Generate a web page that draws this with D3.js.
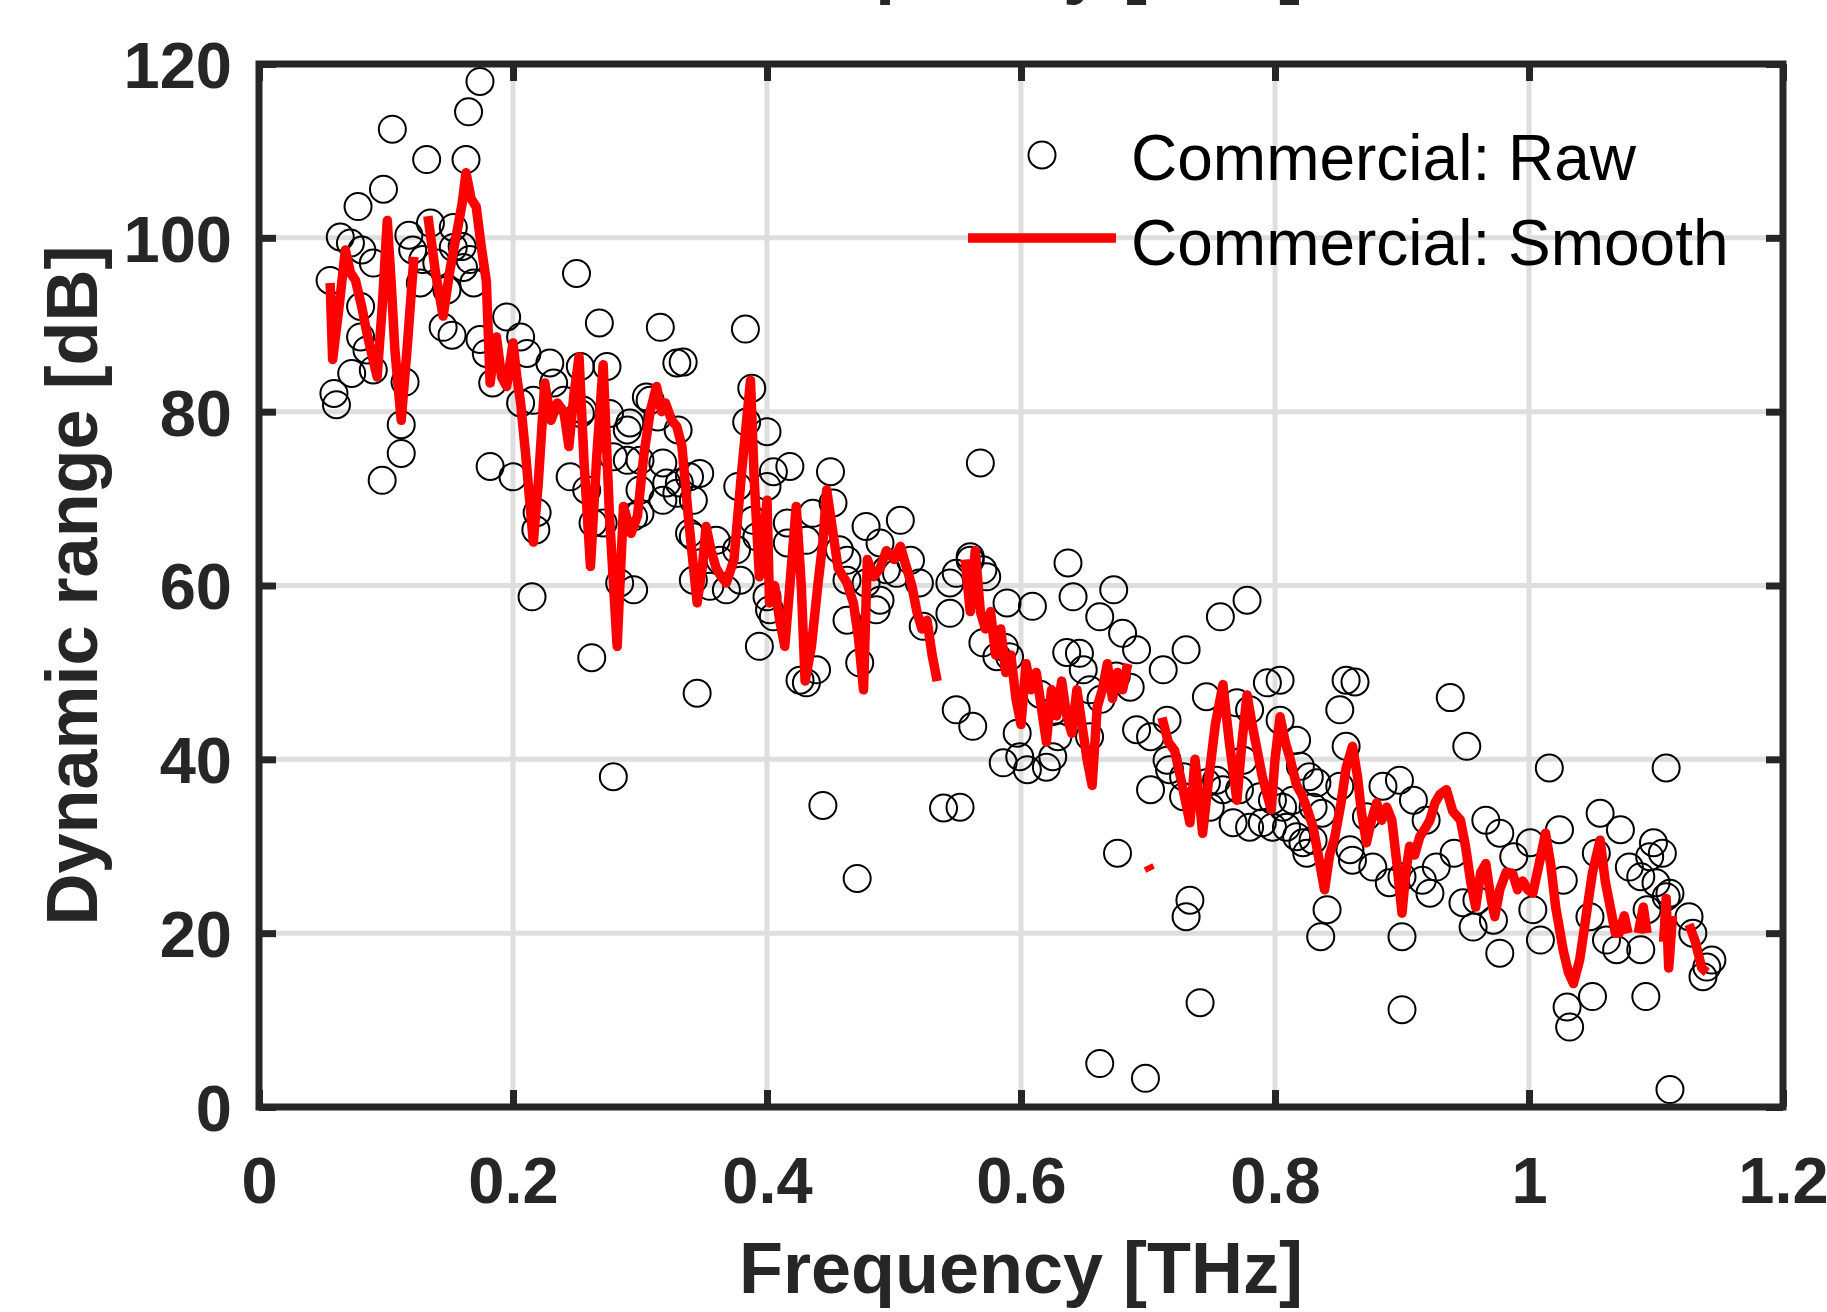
<!DOCTYPE html>
<html>
<head>
<meta charset="utf-8">
<script src="https://cdn.jsdelivr.net/npm/d3@7"></script>
<style>
  body { margin: 0; background: #fff; }
  svg { display: block; font-family: "Liberation Sans", Arial, Helvetica, sans-serif; }
  .axis text { font-size: 65px; font-weight: bold; fill: #262626; }
  .axis line { stroke: #262626; stroke-width: 7; }
  .grid line { stroke: #dedede; stroke-width: 5; }
  .label { font-size: 72px; font-weight: bold; fill: #262626; }
  .legend text { font-size: 64px; fill: #000; }
</style>
</head>
<body>
<div id="chart"></div>
<script>
// axis ticks
const xTicks = [0, 0.2, 0.4, 0.6, 0.8, 1, 1.2];
const xTickLabels = ["0", "0.2", "0.4", "0.6", "0.8", "1", "1.2"];
const yTicks = [0, 20, 40, 60, 80, 100, 120];
const yTickLabels = ["0", "20", "40", "60", "80", "100", "120"];

const seriesNames = ["Commercial: Raw", "Commercial: Smooth"];

// raw dynamic range, [frequency THz, dB]
const rawPoints = [
  [0.174,118.0],[0.165,114.5],[0.105,112.5],[0.132,109.0],[0.163,109.0],[0.098,105.6],
  [0.078,103.6],[0.064,100.1],[0.072,99.4],[0.081,98.6],[0.056,95.1],[0.090,97.1],
  [0.118,100.3],[0.121,98.6],[0.135,101.7],[0.153,101.2],[0.160,99.0],[0.140,97.1],
  [0.161,96.6],[0.148,94.0],[0.169,94.8],[0.080,92.1],[0.145,89.7],[0.152,88.8],
  [0.250,95.9],[0.268,90.2],[0.316,89.7],[0.329,85.6],[0.085,87.1],[0.073,84.4],
  [0.090,84.8],[0.115,83.4],[0.059,82.1],[0.061,80.8],[0.112,78.5],[0.112,75.2],
  [0.097,72.1],[0.195,90.9],[0.206,88.6],[0.174,88.3],[0.179,86.7],[0.211,86.7],
  [0.229,85.6],[0.253,85.2],[0.274,85.2],[0.184,83.3],[0.206,81.0],[0.240,81.3],
  [0.292,78.7],[0.308,81.3],[0.182,73.7],[0.200,72.5],[0.245,72.5],[0.300,71.0],
  [0.321,71.8],[0.290,74.4],[0.129,97.5],[0.153,98.9],[0.166,97.5],[0.127,94.8],
  [0.080,88.6],[0.232,83.3],[0.216,81.3],[0.253,79.8],
  [0.383,89.5],[0.334,85.7],[0.388,82.7],[0.305,81.7],[0.276,79.8],[0.290,77.9],
  [0.314,79.4],[0.330,77.9],[0.384,78.8],[0.400,77.7],[0.279,74.8],[0.300,74.4],
  [0.318,74.1],[0.347,72.9],[0.331,71.8],[0.377,71.4],[0.405,73.1],[0.418,73.7],
  [0.450,73.1],[0.568,74.1],[0.271,67.2],[0.295,67.9],[0.342,65.6],[0.360,65.2],
  [0.376,64.1],[0.392,65.6],[0.416,67.2],[0.436,68.3],[0.452,69.5],[0.478,66.8],
  [0.505,67.5],[0.431,65.2],[0.416,64.9],[0.457,64.1],[0.489,64.9],[0.513,62.9],
  [0.560,63.3],[0.570,61.8],[0.284,60.3],[0.295,59.5],[0.342,60.6],[0.355,59.9],
  [0.368,59.5],[0.379,60.6],[0.400,58.7],[0.402,57.2],[0.463,60.6],[0.478,60.3],
  [0.494,61.8],[0.520,60.3],[0.544,60.3],[0.570,53.4],[0.581,51.8],[0.486,57.2],
  [0.463,56.0],[0.523,55.3],[0.394,53.0],[0.426,49.1],[0.431,48.8],[0.439,50.3],
  [0.473,51.1],[0.345,47.6],[0.549,45.7],[0.562,43.8],[0.262,51.7],
  [0.215,58.7],[0.218,66.4],[0.219,68.4],[0.279,38.0],[0.444,34.7],[0.539,34.4],
  [0.471,26.3],
  [0.255,80.2],[0.339,72.5],[0.329,70.6],[0.258,71.0],[0.342,69.8],[0.300,68.3],
  [0.263,67.2],[0.339,66.0],[0.389,67.5],[0.463,62.9],[0.405,56.4],[0.489,58.3],
  [0.502,61.4],[0.400,71.4],[0.363,62.9],[0.318,69.8],
  [0.560,62.9],[0.549,61.4],[0.573,61.0],[0.637,62.6],[0.673,59.5],[0.589,58.0],
  [0.609,57.6],[0.641,58.7],[0.778,58.3],[0.757,56.4],[0.544,56.8],[0.662,56.4],
  [0.680,54.5],[0.591,51.8],[0.691,52.6],[0.730,52.6],[0.712,50.3],[0.646,52.2],
  [0.654,48.0],[0.597,43.0],[0.599,40.3],[0.605,38.8],[0.625,40.3],[0.620,39.1],
  [0.654,42.6],[0.691,43.4],[0.702,42.6],[0.717,38.8],[0.746,47.2],[0.794,48.8],
  [0.804,49.1],[0.702,36.5],[0.728,35.7],[0.749,34.5],[0.767,32.7],[0.780,32.2],
  [0.798,32.2],[0.817,42.2],[0.822,30.4],[0.833,37.3],[0.851,36.9],[0.851,45.7],
  [0.856,49.1],[0.676,29.2],[0.733,23.8],[0.730,21.9],[0.841,22.7],[0.836,19.6],
  [0.859,29.6],[0.552,34.5],[0.746,37.3],[0.759,36.5],[0.775,39.9],[0.788,35.7],
  [0.806,34.5],[0.586,39.6],[0.629,42.6],
  [0.587,52.9],[0.636,52.3],[0.649,50.3],[0.663,46.9],[0.675,49.6],[0.686,48.3],
  [0.615,47.5],[0.625,45.5],
  [0.715,44.5],[0.770,46.5],[0.780,45.7],[0.804,44.5],[0.715,39.9],[0.728,38.0],
  [0.754,37.6],[0.772,36.5],[0.798,35.3],[0.820,39.2],[0.837,33.8],[0.890,25.8],
  [0.916,26.1],[0.948,23.5],[0.830,30.7],[0.790,32.7],
  [0.863,48.9],[0.938,47.1],[0.951,41.5],[1.016,39.0],[1.108,39.0],[0.856,41.5],
  [0.827,38.0],[0.898,37.6],[0.885,36.9],[0.919,33.0],[0.909,35.3],[0.966,33.0],
  [0.977,31.5],[1.001,30.4],[1.024,31.9],[1.056,33.8],[1.072,31.9],[1.098,30.4],
  [1.095,28.8],[1.053,29.2],[0.814,35.3],[0.830,34.5],[0.809,32.2],[0.825,29.2],
  [0.861,28.4],[0.877,27.6],[0.900,26.5],[0.922,24.6],[0.927,27.6],[0.941,29.2],
  [0.959,23.8],[0.956,20.7],[0.977,17.7],[0.972,21.5],[1.009,19.2],[1.003,22.7],
  [1.027,26.1],[1.048,21.9],[1.061,19.2],[1.069,18.1],[1.088,18.1],[1.108,24.2],
  [1.088,26.5],[1.105,29.2],[0.900,19.6],[0.900,11.2],[1.030,11.5],[1.032,9.2],
  [1.050,12.7],[1.092,12.7],[1.111,2.0],[0.817,31.1],[0.872,33.4],[0.988,28.8],
  [1.079,27.6],
  [0.741,12.0],[0.662,5.0],[0.698,3.3],[1.140,16.1],[1.137,15.0],[1.144,16.9],
  [1.126,21.9],[1.111,24.6],[1.093,22.7],[1.100,25.8],[1.129,20.0]
];

// smoothed curve, null marks a break in the line
const smoothPoints = [
  [0.056,94.8],[0.058,86.0],[0.063,92],[0.068,98.6],[0.072,96],[0.076,95.1],[0.081,92],
  [0.085,89.0],[0.089,86.5],[0.093,84.0],[0.097,92],[0.101,102.0],[0.104,95],[0.107,87.1],
  [0.112,79.0],[0.117,88],[0.122,97.8],[0.127,null],
  [0.133,102.5],[0.139,96],[0.145,91.0],[0.150,96],[0.155,100],[0.160,104],[0.163,107.5],
  [0.167,104.5],[0.171,103.6],[0.175,99],[0.179,95],[0.182,83.3],[0.185,87],[0.187,88.6],
  [0.191,84],[0.195,82.9],[0.200,87.9],[0.203,84],[0.206,81.0],[0.210,75],[0.213,70],
  [0.216,65],[0.220,72],[0.225,83.3],[0.230,79],[0.235,81],[0.240,80],[0.244,76],
  [0.248,82],[0.252,86.3],[0.256,74],[0.261,62.2],[0.266,75],[0.271,85.4],[0.276,68],
  [0.282,53],[0.287,69.1],[0.293,66],[0.298,68],[0.303,75],[0.308,80],[0.313,82.9],
  [0.317,80],[0.320,81],[0.325,79],[0.329,78.3],[0.333,76],[0.338,68],[0.345,58.0],
  [0.349,62],[0.352,66.8],[0.356,64],[0.360,62],[0.364,61],[0.368,60.3],[0.374,63],
  [0.380,73],[0.387,83.6],[0.390,72],[0.394,61],[0.397,65],[0.400,69.8],[0.402,58],
  [0.406,60],[0.410,56],[0.414,53],[0.418,60],[0.423,69.1],[0.427,60],[0.430,49],
  [0.435,53],[0.440,60],[0.444,65],[0.447,71.0],[0.452,66],[0.456,62],[0.460,61],
  [0.463,60.3],[0.468,58],[0.472,54],[0.476,48],[0.479,63],[0.484,61],[0.489,62],
  [0.494,64],[0.500,63],[0.505,64.5],[0.510,62],[0.514,60],[0.518,57],[0.522,55],
  [0.526,56],[0.530,52],[0.534,49],[0.545,null],
  [0.556,63],[0.560,57],[0.564,64],[0.568,57],[0.572,55],[0.576,57],[0.580,52],
  [0.584,55],[0.588,50],[0.592,52],[0.596,47],[0.600,44],[0.604,51],[0.608,48],
  [0.612,50],[0.616,46],[0.620,42],[0.624,48],[0.628,45],[0.632,49],[0.636,45],
  [0.640,43],[0.644,48],[0.648,44],[0.652,40],[0.656,37],[0.660,46],[0.664,48],
  [0.668,51],[0.672,47],[0.676,50],[0.680,48],[0.684,51],[0.692,null],
  [0.700,27.8],[0.702,27.2],[0.706,null],
  [0.711,44.8],[0.716,42],[0.721,41],[0.727,37],[0.733,32.7],[0.737,40],[0.740,36],
  [0.743,31.5],[0.748,38],[0.753,44],[0.759,48.6],[0.764,42],[0.770,35.3],[0.774,42],
  [0.778,47.4],[0.782,44],[0.786,41],[0.790,38],[0.797,34.2],[0.800,40],[0.804,44.9],
  [0.808,42],[0.812,40],[0.817,37],[0.821,36],[0.826,34],[0.830,32.2],[0.834,29],
  [0.839,25.0],[0.843,29],[0.847,31],[0.852,35],[0.856,39],[0.861,41.5],[0.865,38],
  [0.868,34],[0.872,30.4],[0.876,33],[0.880,35],[0.884,33],[0.888,34.5],[0.892,33],
  [0.896,28],[0.900,22.3],[0.903,27],[0.906,30],[0.910,29],[0.914,31.1],[0.918,32],
  [0.922,33],[0.926,35],[0.930,36],[0.935,36.5],[0.940,34],[0.946,33.0],[0.950,30],
  [0.954,26],[0.958,23],[0.962,27],[0.966,28],[0.970,24],[0.973,21.9],[0.977,25],
  [0.982,27],[0.987,26.9],[0.991,25],[0.995,26],[0.999,25],[1.003,24.6],[1.008,28],
  [1.013,31.5],[1.017,28],[1.021,23],[1.027,18],[1.031,15.5],[1.035,14.2],[1.040,17],
  [1.045,22],[1.050,27],[1.056,30.7],[1.060,26],[1.064,23],[1.068,20],[1.071,20],
  [1.075,22],[1.078,20],[1.082,null],
  [1.086,20],[1.090,23],[1.093,20],[1.100,null],
  [1.106,19],[1.108,24],[1.110,16],[1.113,22],[1.120,null],
  [1.126,21],[1.131,19],[1.136,16],[1.140,15.5]
];

class DynamicRangePlot {
  constructor(_config, _raw, _smooth) {
    this.config = {
      parentElement: _config.parentElement,
      containerWidth: _config.containerWidth || 1827,
      containerHeight: _config.containerHeight || 1312,
      margin: _config.margin || { top: 64, right: 44, bottom: 205, left: 259 },
      xLabel: _config.xLabel || "",
      yLabel: _config.yLabel || ""
    };
    this.raw = _raw;
    this.smooth = _smooth;
    this.initVis();
  }

  initVis() {
    let vis = this;

    vis.width = vis.config.containerWidth - vis.config.margin.left - vis.config.margin.right;
    vis.height = vis.config.containerHeight - vis.config.margin.top - vis.config.margin.bottom;

    vis.xScale = d3.scaleLinear().domain([xTicks[0], xTicks[xTicks.length - 1]]).range([0, vis.width]);
    vis.yScale = d3.scaleLinear().domain([yTicks[0], yTicks[yTicks.length - 1]]).range([vis.height, 0]);

    vis.svg = d3.select(vis.config.parentElement)
      .append("svg")
      .attr("width", vis.config.containerWidth)
      .attr("height", vis.config.containerHeight);

    vis.svg.append("rect")
      .attr("width", vis.config.containerWidth)
      .attr("height", vis.config.containerHeight)
      .attr("fill", "#fff");

    vis.chart = vis.svg.append("g")
      .attr("transform", `translate(${vis.config.margin.left},${vis.config.margin.top})`);

    // grid
    const grid = vis.chart.append("g").attr("class", "grid");
    grid.selectAll(".gx")
      .data(xTicks.slice(1, -1))
      .join("line")
      .attr("class", "gx")
      .attr("x1", d => vis.xScale(d)).attr("x2", d => vis.xScale(d))
      .attr("y1", 0).attr("y2", vis.height);
    grid.selectAll(".gy")
      .data(yTicks.slice(1, -1))
      .join("line")
      .attr("class", "gy")
      .attr("x1", 0).attr("x2", vis.width)
      .attr("y1", d => vis.yScale(d)).attr("y2", d => vis.yScale(d));

    vis.pointsG = vis.chart.append("g").attr("class", "points");
    vis.lineG = vis.chart.append("g").attr("class", "smooth");

    // axes, ticks pointing inward on all four sides
    vis.xAxis = d3.axisBottom(vis.xScale).tickValues(xTicks)
      .tickFormat((d, i) => xTickLabels[i]).tickSize(-17).tickSizeOuter(0).tickPadding(50);
    vis.yAxis = d3.axisLeft(vis.yScale).tickValues(yTicks)
      .tickFormat((d, i) => yTickLabels[i]).tickSize(-17).tickSizeOuter(0).tickPadding(27);
    vis.xAxisTop = d3.axisTop(vis.xScale).tickValues(xTicks).tickFormat("").tickSize(-17).tickSizeOuter(0);
    vis.yAxisRight = d3.axisRight(vis.yScale).tickValues(yTicks).tickFormat("").tickSize(-17).tickSizeOuter(0);

    vis.chart.append("g").attr("class", "axis x-axis")
      .attr("transform", `translate(0,${vis.height})`).call(vis.xAxis);
    vis.chart.append("g").attr("class", "axis y-axis").call(vis.yAxis);
    vis.chart.append("g").attr("class", "axis").call(vis.xAxisTop);
    vis.chart.append("g").attr("class", "axis")
      .attr("transform", `translate(${vis.width},0)`).call(vis.yAxisRight);
    vis.chart.selectAll(".axis .domain").remove();
    vis.chart.selectAll(".x-axis text").attr("dy", null).attr("y", 96);
    vis.chart.selectAll(".y-axis text").attr("dy", "0.36em");

    vis.chart.append("rect")
      .attr("width", vis.width)
      .attr("height", vis.height)
      .attr("fill", "none")
      .attr("stroke", "#262626")
      .attr("stroke-width", 7);

    vis.chart.append("text")
      .attr("class", "label x-label")
      .attr("x", vis.width / 2)
      .attr("y", vis.height + 186)
      .attr("text-anchor", "middle")
      .text(vis.config.xLabel);

    vis.chart.append("text")
      .attr("class", "label y-label")
      .attr("transform", "rotate(-90)")
      .attr("x", -vis.height / 2)
      .attr("y", -162)
      .attr("text-anchor", "middle")
      .text(vis.config.yLabel);

    // label of the panel above, cut off by the figure edge
    vis.chart.append("text")
      .attr("class", "label")
      .attr("x", vis.width / 2)
      .attr("y", -74)
      .attr("text-anchor", "middle")
      .text(vis.config.xLabel);

    vis.renderVis();
  }

  renderVis() {
    let vis = this;

    vis.pointsG.selectAll("circle")
      .data(vis.raw)
      .join("circle")
      .attr("cx", d => vis.xScale(d[0]))
      .attr("cy", d => vis.yScale(d[1]))
      .attr("r", 13.5)
      .attr("fill", "none")
      .attr("stroke", "#000")
      .attr("stroke-width", 2);

    const line = d3.line()
      .defined(d => d[1] !== null)
      .x(d => vis.xScale(d[0]))
      .y(d => vis.yScale(d[1]));

    vis.lineG.append("path")
      .datum(vis.smooth)
      .attr("d", line)
      .attr("fill", "none")
      .attr("stroke", "#ff0000")
      .attr("stroke-width", 9.5)
      .attr("stroke-linejoin", "round");

    // legend, no box
    const legend = vis.svg.append("g").attr("class", "legend");
    legend.append("circle")
      .attr("cx", 1042).attr("cy", 155).attr("r", 13.5)
      .attr("fill", "none").attr("stroke", "#000").attr("stroke-width", 2);
    legend.append("line")
      .attr("x1", 968).attr("x2", 1116).attr("y1", 238).attr("y2", 238)
      .attr("stroke", "#ff0000").attr("stroke-width", 9.5);
    legend.selectAll("text")
      .data(seriesNames)
      .join("text")
      .attr("x", 1131)
      .attr("y", (d, i) => 180 + i * 85)
      .text(d => d);
  }
}

const plot = new DynamicRangePlot({
  parentElement: "#chart",
  xLabel: "Frequency [THz]",
  yLabel: "Dynamic range [dB]"
}, rawPoints, smoothPoints);
</script>
</body>
</html>
